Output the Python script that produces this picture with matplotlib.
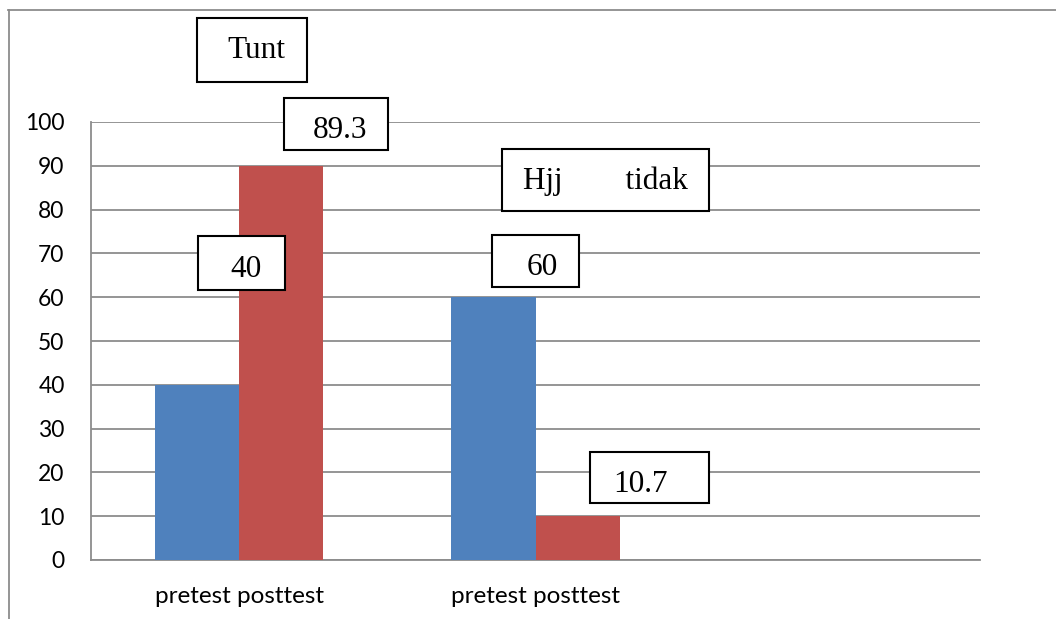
import matplotlib
matplotlib.use("Agg")
import matplotlib.pyplot as plt
from matplotlib.patches import Rectangle
from matplotlib.lines import Line2D

categories = ["pretest posttest", "pretest posttest", ""]
pretest = [40, 60, 0]
posttest = [90, 10, 0]
y_ticks = [0, 10, 20, 30, 40, 50, 60, 70, 80, 90, 100]
box_labels = ["Tunt", "89.3", "Hjj        tidak", "40", "60", "10.7"]

W, H = 1056, 619
fig = plt.figure(figsize=(W / 100, H / 100), dpi=100)
ax = fig.add_axes([91 / W, 1 - 560 / H, (980 - 91) / W, (560 - 122) / H])

x = list(range(len(categories)))
bw = 84 / 296
ax.bar([i - bw / 2 for i in x], pretest, width=bw, color="#4F81BD", zorder=3)
ax.bar([i + bw / 2 for i in x], posttest, width=bw, color="#C0504D", zorder=3)

ax.set_xlim(-0.5, 2.5)
ax.set_ylim(0, 100)
ax.set_yticks(y_ticks)
ax.set_yticklabels([str(v) for v in y_ticks], fontfamily="Lato", fontsize=16.5)
ax.set_xticks(x)
ax.set_xticklabels(categories, fontfamily="Lato", fontsize=17.5)
ax.tick_params(axis="y", length=0, pad=19)
ax.tick_params(axis="x", length=0, pad=19)
ax.yaxis.grid(True, color="#8c8c8c", linewidth=1.3, zorder=0)
ax.set_axisbelow(True)
for s in ["top", "right"]:
    ax.spines[s].set_visible(False)
for s in ["left", "bottom"]:
    ax.spines[s].set_color("#8c8c8c")
    ax.spines[s].set_linewidth(1.3)

# outer border (top and left)
fig.add_artist(Line2D([8 / W, 1.0], [1 - 10 / H, 1 - 10 / H], transform=fig.transFigure,
                      color="#8c8c8c", linewidth=1.3))
fig.add_artist(Line2D([9 / W, 9 / W], [0, 1 - 10 / H], transform=fig.transFigure,
                      color="#8c8c8c", linewidth=1.3))

# text boxes (pixel layout: x0, y0, x1, y1, text-left, baseline)
boxes = [
    (197, 18, 307, 82, 227, 58),
    (284, 98, 388, 150, 313, 138),
    (502, 149, 709, 211, 523, 189),
    (198, 236, 285, 290, 230, 277),
    (492, 235, 579, 287, 527, 275),
    (590, 452, 709, 503, 613, 492),
]
for (x0, y0, x1, y1, tx, ty), lab in zip(boxes, box_labels):
    fig.add_artist(Rectangle((x0 / W, 1 - y1 / H), (x1 - x0) / W, (y1 - y0) / H,
                             transform=fig.transFigure, facecolor="white",
                             edgecolor="black", linewidth=1.5, zorder=5))
    fig.text(tx / W, 1 - ty / H, lab, fontfamily="Liberation Serif", fontsize=22.5,
             ha="left", va="baseline", zorder=6)

fig.savefig("out.png", dpi=100)
